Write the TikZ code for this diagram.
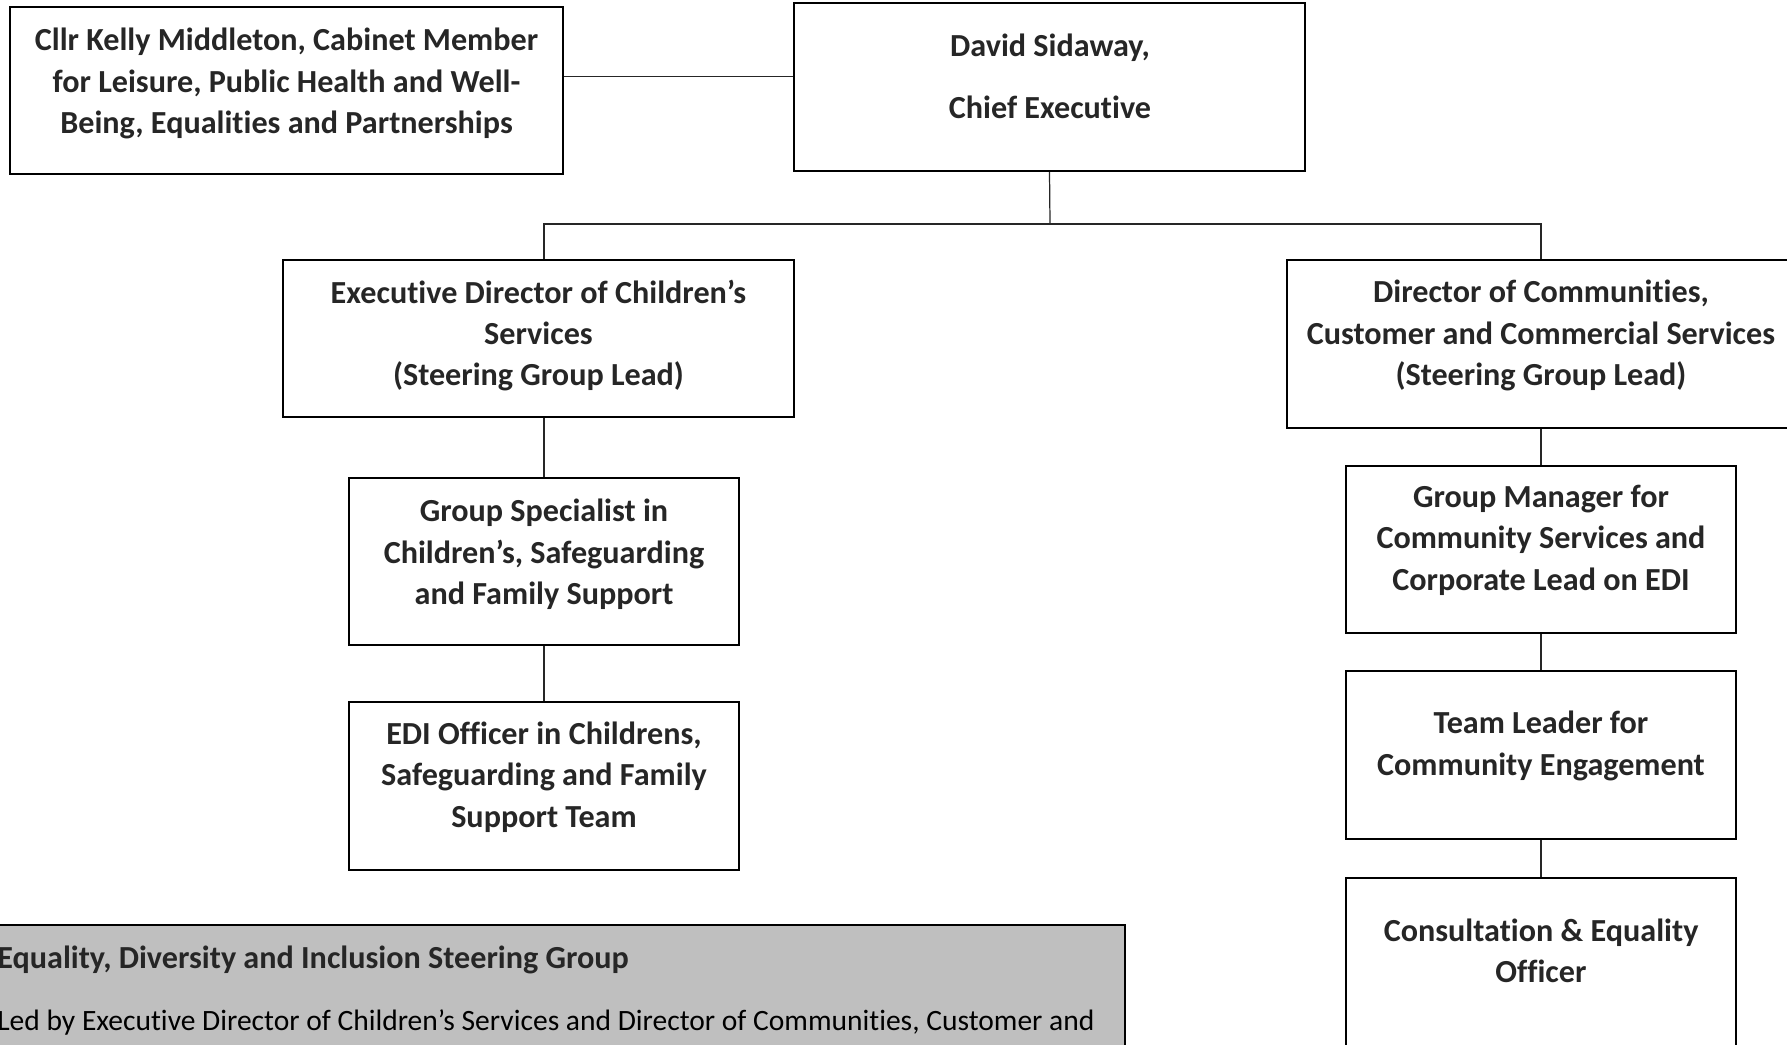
\documentclass[tikz,border=0pt]{standalone}
\usepackage{fontspec}
\setmainfont{Carlito}[Ligatures=NoCommon]
\usepackage{tikz}
\usetikzlibrary{positioning, calc}
\definecolor{orgText}{HTML}{262626}
\definecolor{orgGrey}{HTML}{BFBFBF}
\tikzset{
  orgbox/.style={
    draw=black, line width=1.4pt, minimum width=7.8cm, minimum height=3.34cm,
    inner sep=0pt
  },
  widebox/.style={orgbox, minimum width=10.22cm},
  orgtxt/.style={
    font=\fontsize{18.3}{23.6}\selectfont\bfseries, text=orgText,
    align=center, inner sep=0pt
  },
  steerbox/.style={orgbox, fill=orgGrey, minimum width=22.7cm, minimum height=2.9cm},
  steertxt/.style={font=\fontsize{16.8}{23.6}\selectfont, anchor=west, inner sep=0pt},
  link/.style={line width=0.7pt, black!85}
}

\begin{document}
\begin{tikzpicture}[x=0.02cm, y=-0.02cm]
  \path[use as bounding box, clip] (0,0) rectangle (1787,1044);

  % top row
  \node[widebox, minimum width=11.06cm] (cllr) at (286.5,90.5) {};
  \node[orgtxt] (cllr-t) at (286.5,83.5)
    {Cllr Kelly Middleton, Cabinet Member\\for Leisure, Public Health and Well-\\Being, Equalities and Partnerships};
  \node[widebox, minimum height=3.36cm] (chief) at (1049.5,87) {};
  \node[orgtxt] (chief-t) at (1050,76.5) {David Sidaway,\\[0.4cm]Chief Executive};

  % directors
  \node[widebox, minimum height=3.14cm] (exec) at (538.5,338.5) {};
  \node[orgtxt] (exec-t) at (538.5,335.5)
    {Executive Director of Children’s\\Services\\(Steering Group Lead)};
  \node[widebox, minimum width=10.16cm, minimum height=3.36cm] (dir) at (1541,344) {};
  \node[orgtxt] (dir-t) at (1541,335.5)
    {Director of Communities,\\Customer and Commercial Services\\(Steering Group Lead)};

  % children's side
  \node[orgbox] (gs) at (544,561.5) {};
  \node[orgtxt] (gs-t) at (544,554.5)
    {Group Specialist in\\Children’s, Safeguarding\\and Family Support};
  \node[orgbox, minimum height=3.36cm] (edi) at (544,786) {};
  \node[orgtxt] (edi-t) at (544,777)
    {EDI Officer in Childrens,\\Safeguarding and Family\\Support Team};

  % communities side
  \node[orgbox] (gm) at (1541,549.5) {};
  \node[orgtxt] (gm-t) at (1541,540)
    {Group Manager for\\Community Services and\\Corporate Lead on EDI};
  \node[orgbox, minimum height=3.36cm] (tl) at (1541,755) {};
  \node[orgtxt] (tl-t) at (1541,746)
    {Team Leader for\\Community Engagement};
  \node[orgbox, minimum height=3.6cm] (ce) at (1541,968) {};
  \node[orgtxt] (ce-t) at (1541,951)
    {Consultation \& Equality\\Officer};

  % steering group
  \node[steerbox] (steer) at (557.5,997.5) {};
  \node[steertxt, font=\fontsize{18.3}{23.6}\selectfont\bfseries, text=orgText] (steer-t) at (-3,959.5)
    {Equality, Diversity and Inclusion Steering Group};
  \node[steertxt] (steer-led) at (-3,1022)
    {Led by Executive Director of Children’s Services and Director of Communities, Customer and};

  % connectors
  \coordinate (bus) at (1050,224);
  \draw[link] (cllr.east |- chief-t) -- (chief.west |- chief-t);
  \draw[link] (chief.south) -- (bus);
  \draw[link] (gs.north |- exec.north) |- (bus) -| (gm.north |- dir.north);
  \draw[link] (gs.north |- exec.south) -- (gs.north);
  \draw[link] (gs.south) -- (edi.north);
  \draw[link] (gm.north |- dir.south) -- (gm.north);
  \draw[link] (gm.south) -- (tl.north);
  \draw[link] (tl.south) -- (ce.north);
\end{tikzpicture}
\end{document}
